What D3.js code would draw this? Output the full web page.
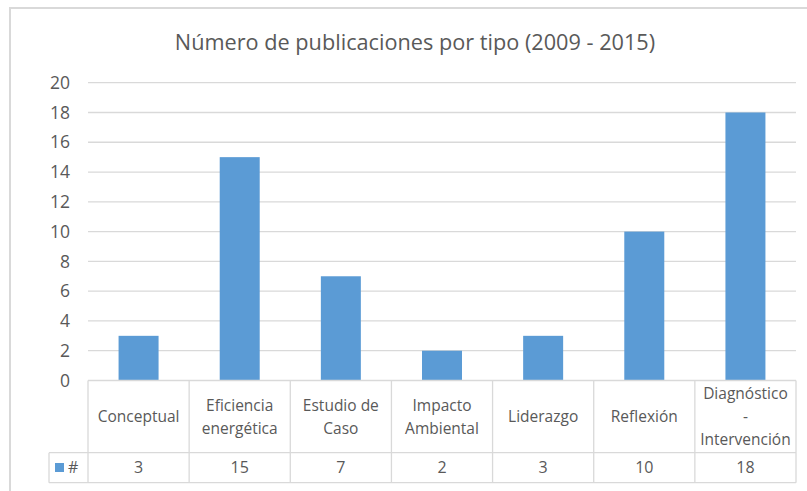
<!DOCTYPE html>
<html>
<head>
<meta charset="utf-8">
<script src="https://cdn.jsdelivr.net/npm/d3@7"></script>
<style>
  body { margin: 0; background: #fff; }
  text { font-family: "Open Sans", sans-serif; fill: #595959; }
</style>
</head>
<body>
<div id="chart"></div>
<script>
// Datos
const categorias = [
  ["Conceptual"],
  ["Eficiencia", "energética"],
  ["Estudio de", "Caso"],
  ["Impacto", "Ambiental"],
  ["Liderazgo"],
  ["Reflexión"],
  ["Diagnóstico", "-", "Intervención"]
];
const valores = [3, 15, 7, 2, 3, 10, 18];
const ticksY = [0, 2, 4, 6, 8, 10, 12, 14, 16, 18, 20];
const serie = "#";
const titulo = "Número de publicaciones por tipo (2009 - 2015)";

const width = 807, height = 491;
const plotLeft = 88, plotRight = 796, plotTop = 82.7, base = 380.5;
const row1 = 452.7, row2 = 482.7, legendLeft = 49;
const grid = "#d9d9d9", azul = "#5b9bd5";

const svg = d3.select("#chart").append("svg")
  .attr("width", width).attr("height", height);

// borde del gráfico
svg.append("rect")
  .attr("x", 10).attr("y", 8)
  .attr("width", 830).attr("height", 520)
  .attr("fill", "none").attr("stroke", grid).attr("stroke-width", 2);

svg.append("text")
  .attr("x", 415).attr("y", 50)
  .attr("text-anchor", "middle")
  .style("font-size", "21.7px")
  .text(titulo);

const x = d3.scaleBand()
  .domain(d3.range(categorias.length))
  .range([plotLeft, plotRight])
  .paddingInner(0).paddingOuter(0);

const y = d3.scaleLinear().domain([0, 20]).range([base, plotTop]);

// rejilla
svg.append("g")
  .selectAll("line")
  .data(ticksY.filter(d => d > 0))
  .enter().append("line")
  .attr("x1", plotLeft).attr("x2", plotRight)
  .attr("y1", d => y(d)).attr("y2", d => y(d))
  .attr("stroke", grid).attr("stroke-width", 1.3);

// etiquetas eje Y
svg.append("g")
  .selectAll("text")
  .data(ticksY)
  .enter().append("text")
  .attr("x", 70)
  .attr("y", d => y(d))
  .attr("dy", "0.35em")
  .attr("text-anchor", "end")
  .style("font-size", "17.5px")
  .text(d => d);

// barras
const barW = 40;
svg.append("g")
  .selectAll("rect")
  .data(valores)
  .enter().append("rect")
  .attr("x", (d, i) => x(i) + x.bandwidth() / 2 - barW / 2)
  .attr("y", d => y(d))
  .attr("width", barW)
  .attr("height", d => y(0) - y(d))
  .attr("fill", azul);

// tabla de datos
const tabla = svg.append("g")
  .attr("stroke", grid).attr("stroke-width", 1.3).attr("fill", "none");

tabla.append("line").attr("x1", plotLeft).attr("x2", plotRight).attr("y1", base).attr("y2", base);
tabla.append("line").attr("x1", legendLeft).attr("x2", plotRight).attr("y1", row1).attr("y2", row1);
tabla.append("line").attr("x1", legendLeft).attr("x2", plotRight).attr("y1", row2).attr("y2", row2);
tabla.append("line").attr("x1", legendLeft).attr("x2", legendLeft).attr("y1", row1).attr("y2", row2);

tabla.selectAll("line.v")
  .data(d3.range(categorias.length + 1))
  .enter().append("line")
  .attr("class", "v")
  .attr("x1", i => plotLeft + i * x.step()).attr("x2", i => plotLeft + i * x.step())
  .attr("y1", base).attr("y2", row2);

const cellMid = (base + row1) / 2;
const lh = 23;
const cat = svg.append("g").selectAll("text")
  .data(categorias)
  .enter().append("text")
  .attr("text-anchor", "middle")
  .style("font-size", "15.5px");

cat.selectAll("tspan")
  .data((d, i) => d.map((t, k) => ({ t, k, n: d.length, i })))
  .enter().append("tspan")
  .attr("x", d => x(d.i) + x.bandwidth() / 2)
  .attr("y", d => cellMid + (d.k - (d.n - 1) / 2) * lh)
  .attr("dy", "0.35em")
  .text(d => d.t);

svg.append("g").selectAll("text")
  .data(valores)
  .enter().append("text")
  .attr("x", (d, i) => x(i) + x.bandwidth() / 2)
  .attr("y", (row1 + row2) / 2)
  .attr("dy", "0.35em")
  .attr("text-anchor", "middle")
  .style("font-size", "16px")
  .text(d => d);

// leyenda
svg.append("rect")
  .attr("x", 55).attr("y", 463)
  .attr("width", 9).attr("height", 9)
  .attr("fill", azul);
svg.append("text")
  .attr("x", 68).attr("y", (row1 + row2) / 2)
  .attr("dy", "0.35em")
  .style("font-size", "16px")
  .text(serie);
</script>
</body>
</html>
